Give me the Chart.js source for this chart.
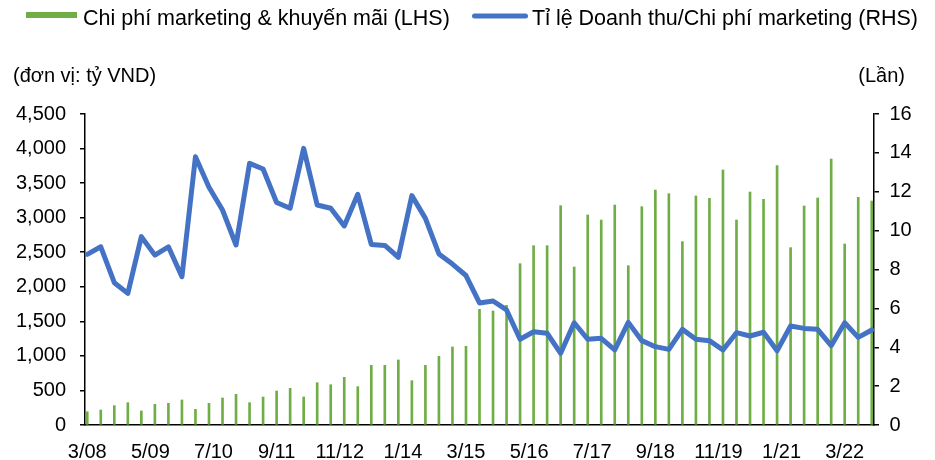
<!DOCTYPE html>
<html><head><meta charset="utf-8">
<script src="https://cdn.jsdelivr.net/npm/chart.js@4/dist/chart.umd.min.js"></script>
<style>html,body{margin:0;padding:0;background:#fff;}#wrap{width:935px;height:460px;position:relative;}</style>
</head><body><div id="wrap"><canvas id="c"></canvas></div>
<script>
const categories = ['3/08','6/08','9/08','12/08','3/09','6/09','9/09','12/09','3/10','6/10','9/10','12/10',
 '3/11','6/11','9/11','12/11','3/12','6/12','9/12','12/12','3/13','6/13','9/13','12/13',
 '3/14','6/14','9/14','12/14','3/15','6/15','9/15','12/15','3/16','6/16','9/16','12/16',
 '3/17','6/17','9/17','12/17','3/18','6/18','9/18','12/18','3/19','6/19','9/19','12/19',
 '3/20','6/20','9/20','12/20','3/21','6/21','9/21','12/21','3/22','6/22','9/22'];
const marketingCost = [192,217,280,323,203,299,313,362,227,313,391,444,323,405,492,531,405,612,583,690,
 555,863,863,941,641,863,994,1129,1138,1674,1650,1732,2334,2595,2595,3174,2286,3039,2966,3183,
 2305,3159,3400,3347,2653,3314,3280,3690,2966,3371,3265,3752,2566,3169,3285,3849,2619,3294,3241];
const revenueRatio = [8.78,9.17,7.32,6.77,9.69,8.74,9.17,7.63,13.80,12.23,11.06,9.26,13.46,13.17,11.45,11.15,14.23,11.32,11.15,10.24,
 11.87,9.29,9.24,8.63,11.80,10.63,8.80,8.28,7.69,6.28,6.38,5.92,4.41,4.80,4.72,3.69,5.26,4.41,4.46,3.86,
 5.28,4.34,4.03,3.89,4.92,4.41,4.34,3.86,4.75,4.58,4.77,3.82,5.09,4.97,4.92,4.08,5.26,4.51,4.89];
const xTickLabels = ['3/08','5/09','7/10','9/11','11/12','1/14','3/15','5/16','7/17','9/18','11/19','1/21','3/22'];
const legendLabels = ['Chi phí marketing & khuyến mãi (LHS)','Tỉ lệ Doanh thu/Chi phí marketing (RHS)'];
const unitLeft = '(đơn vị: tỷ VND)';
const unitRight = '(Lần)';

const GREEN = '#70AD47', BLUE = '#4472C4';
const FONT = '"Liberation Sans", Arial, sans-serif';
function monthIndex(lbl){ const p = lbl.split('/').map(Number); return (p[1]-8)*12 + (p[0]-3); }

const overlay = {
  id:'overlay',
  afterDraw(chart){
    const ctx = chart.ctx; ctx.save();
    ctx.fillStyle = GREEN; ctx.fillRect(26,12,51,6);
    ctx.strokeStyle = BLUE; ctx.lineWidth = 5; ctx.lineCap = 'round';
    ctx.beginPath(); ctx.moveTo(474.5,16); ctx.lineTo(525.5,16); ctx.stroke();
    ctx.fillStyle = '#000'; ctx.font = '21.5px ' + FONT; ctx.textBaseline = 'alphabetic'; ctx.textAlign = 'left';
    ctx.fillText(legendLabels[0], 83, 25);
    ctx.fillText(legendLabels[1], 532, 25);
    ctx.font = '20px ' + FONT;
    ctx.fillText(unitLeft, 13, 82);
    ctx.textAlign = 'right'; ctx.fillText(unitRight, 905, 82);
    ctx.restore();
  }
};

const axisGrid = {drawOnChartArea:false, drawTicks:true, tickLength:5, color:'#000', lineWidth:1.5};
const tickFont = {size:20, family:FONT};

new Chart(document.getElementById('c'), {
  type:'bar',
  data:{ datasets:[
    {type:'line', label:legendLabels[1], yAxisID:'y1', order:0,
     data: categories.map((c,i)=>({x:monthIndex(c), y:revenueRatio[i]})),
     borderColor:BLUE, backgroundColor:BLUE, borderWidth:5, pointRadius:0, tension:0,
     borderJoinStyle:'round', borderCapStyle:'round'},
    {type:'bar', label:legendLabels[0], yAxisID:'y', order:1,
     data: categories.map((c,i)=>({x:monthIndex(c), y:marketingCost[i]})),
     backgroundColor:GREEN, barThickness:2}
  ]},
  options:{
    responsive:true, maintainAspectRatio:false, animation:false,
    layout:{padding:{top:114, left:0, right:0, bottom:0}},
    plugins:{legend:{display:false}, tooltip:{enabled:false}},
    scales:{
      x:{type:'linear', min:-0.5, max:174.5, offset:false,
         grid:{display:false, offset:false}, border:{display:true, color:'#000', width:1.5},
         afterBuildTicks: s => { s.ticks = xTickLabels.map(l => ({value: monthIndex(l)})); },
         ticks:{autoSkip:false, maxRotation:0, minRotation:0, padding:7, color:'#000', font:tickFont,
                callback:(v,i) => xTickLabels[i]},
         afterFit: s => { s.height = 35; }},
      y:{position:'left', min:0, max:4500,
         ticks:{stepSize:500, padding:14, color:'#000', font:tickFont, callback:v => v.toLocaleString('en-US')},
         grid:axisGrid, border:{display:true, color:'#000', width:1.5},
         afterFit: s => { s.width = 85; }},
      y1:{position:'right', min:0, max:16,
         ticks:{stepSize:2, padding:10.5, color:'#000', font:tickFont},
         grid:axisGrid, border:{display:true, color:'#000', width:1.5},
         afterFit: s => { s.width = 61; }}
    }
  },
  plugins:[overlay]
});
</script></body></html>
